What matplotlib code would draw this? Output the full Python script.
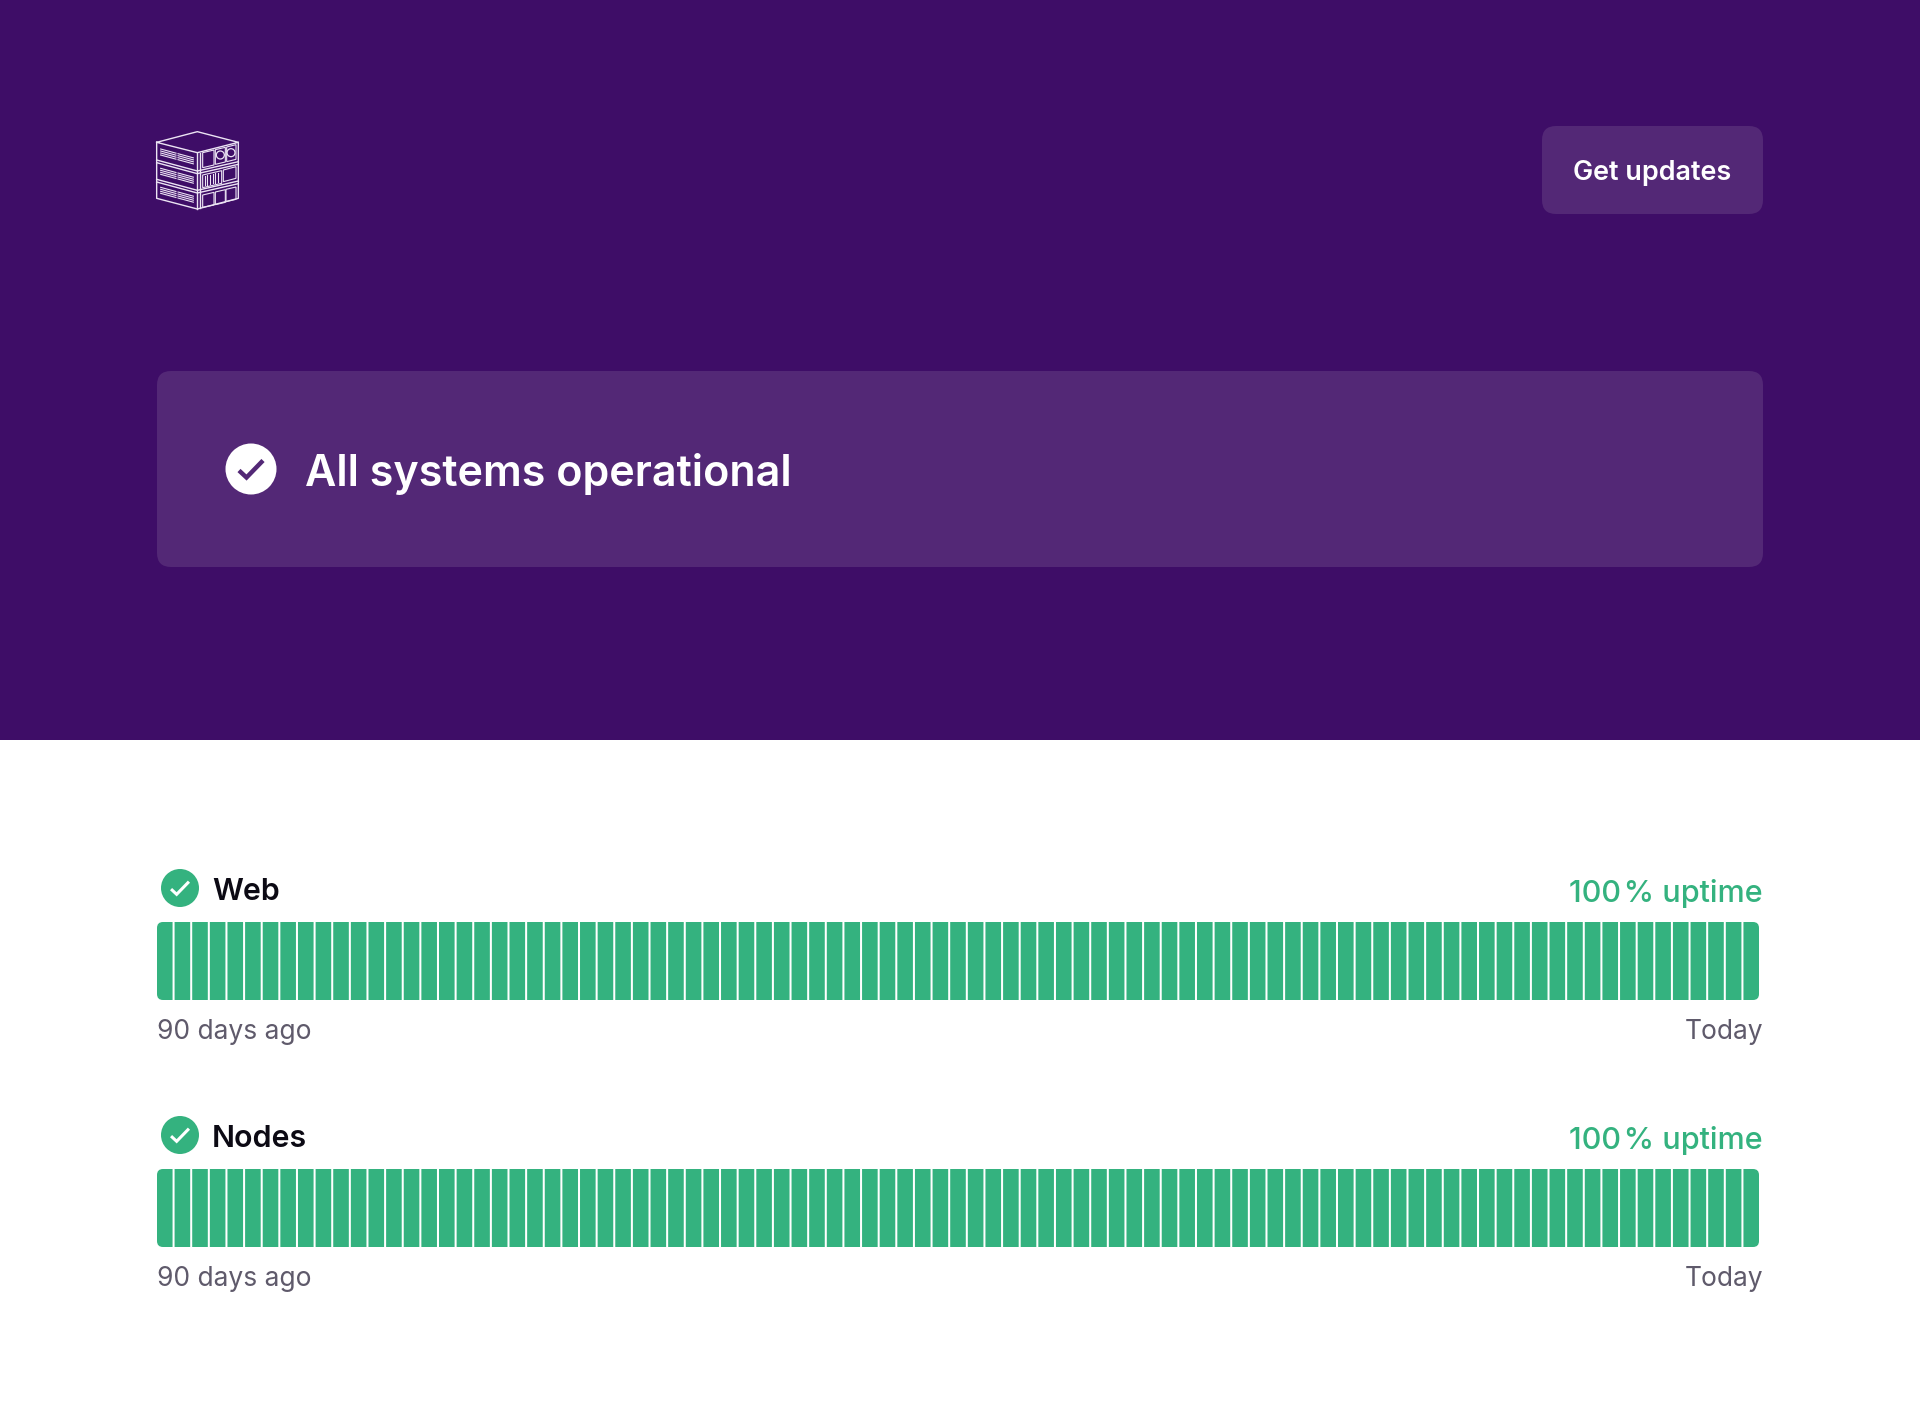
import matplotlib
matplotlib.use("Agg")
import matplotlib.pyplot as plt
from matplotlib.patches import Circle, FancyBboxPatch, Polygon, Rectangle

plt.rcParams["font.family"] = ["Inter", "DejaVu Sans"]

W, H = 1920, 1415
PURPLE = "#3e0d67"
PANEL = "#532876"
GREEN = "#34b27f"
GREY = "#5f5a6b"
INK = "#0c0a14"
LOGO = "#ece4f4"

# daily uptime, one row per 13 days, 91 days in total
web_uptime = [
    100, 100, 100, 100, 100, 100, 100, 100, 100, 100, 100, 100, 100,
    100, 100, 100, 100, 100, 100, 100, 100, 100, 100, 100, 100, 100,
    100, 100, 100, 100, 100, 100, 100, 100, 100, 100, 100, 100, 100,
    100, 100, 100, 100, 100, 100, 100, 100, 100, 100, 100, 100, 100,
    100, 100, 100, 100, 100, 100, 100, 100, 100, 100, 100, 100, 100,
    100, 100, 100, 100, 100, 100, 100, 100, 100, 100, 100, 100, 100,
    100, 100, 100, 100, 100, 100, 100, 100, 100, 100, 100, 100, 100,
]
nodes_uptime = list(web_uptime)
services = ["Web", "Nodes"]
service_values = [web_uptime, nodes_uptime]
uptime_labels = ["100\u200a% uptime", "100\u200a% uptime"]
start_label = "90 days ago"
end_label = "Today"
headline = "All systems operational"
button_label = "Get updates"


def rounded(ax, x0, y0, x1, y1, r, color):
    patch = FancyBboxPatch(
        (x0, y0), x1 - x0, y1 - y0,
        boxstyle=f"round,pad=0,rounding_size={r}",
        fc=color, ec="none", lw=0,
    )
    ax.add_patch(patch)
    return patch


def check_icon(ax, cx, cy, r, fill, tick, lw):
    ax.add_patch(Circle((cx, cy), r, fc=fill, ec="none"))
    s = r / 25.5
    ax.plot(
        [cx - 12 * s, cx - 4.5 * s, cx + 12 * s],
        [cy + 1.5 * s, cy + 8.5 * s, cy - 8.5 * s],
        color=tick, lw=lw, solid_joinstyle="miter", solid_capstyle="butt",
    )


def draw_logo(ax):
    # logo sketched in crop coordinates, 3x zoom of the area at (140, 110)
    def px(points):
        return [140 + p[0] / 3 for p in points], [110 + p[1] / 3 for p in points]

    outlines = [
        [(50, 97), (172, 65), (295, 97), (172, 128), (50, 97)],
        [(50, 97), (50, 265), (172, 297), (295, 265), (295, 97)],
        [(172, 128), (172, 297)],
        [(180, 128), (180, 295)],
        [(50, 150), (172, 183), (295, 155)],
        [(50, 158), (172, 191), (295, 163)],
        [(50, 208), (172, 241), (295, 213)],
        [(50, 216), (172, 249), (295, 221)],
    ]
    for line in outlines:
        xs, ys = px(line)
        ax.plot(xs, ys, color=LOGO, lw=1.0)

    # vents on the left face
    for top in (117, 175, 232):
        for x0 in (62, 114):
            y_start = top + (x0 - 62) * 0.27
            for k in range(4):
                xs, ys = px([(x0, y_start + k * 6), (x0 + 46, y_start + 12.5 + k * 6)])
                ax.plot(xs, ys, color=LOGO, lw=0.8)

    # hardware on the right face
    boxes = [
        [(188, 128), (222, 120), (222, 165), (188, 173)],
        [(226, 119), (256, 112), (256, 156), (226, 163)],
        [(260, 111), (288, 104), (288, 148), (260, 155)],
        [(188, 195), (245, 182), (245, 220), (188, 233)],
        [(250, 180), (288, 170), (288, 205), (250, 215)],
        [(188, 255), (222, 247), (222, 285), (188, 292)],
        [(226, 246), (256, 239), (256, 277), (226, 284)],
        [(258, 238), (288, 231), (288, 268), (258, 275)],
    ]
    for box in boxes:
        xs, ys = px(box)
        ax.add_patch(Polygon(list(zip(xs, ys)), fc="none", ec=LOGO, lw=0.8))
    for cx, cy in ((241, 135), (273, 128)):
        xs, ys = px([(cx, cy)])
        ax.add_patch(Circle((xs[0], ys[0]), 4, fc="none", ec=LOGO, lw=0.9))
    for k in range(6):
        xs, ys = px([(194 + k * 8, 198 - k * 2), (194 + k * 8, 226 - k * 2)])
        ax.plot(xs, ys, color=LOGO, lw=0.8)


def draw_service(fig, ax, name, values, uptime, top):
    x0, x1 = 157, 1759
    y0, y1 = top, top + 78

    check_icon(ax, 180, top - 34, 19, GREEN, "white", 2.2)
    ax.text(212, top - 22, name, fontsize=21.8, fontweight=600, color=INK, va="baseline")
    ax.text(1763, top - 20, uptime, fontsize=22, fontweight=500, color=GREEN,
            va="baseline", ha="right")
    ax.text(157, top + 117, start_label, fontsize=19, color=GREY, va="baseline")
    ax.text(1763, top + 117, end_label, fontsize=19, color=GREY, va="baseline", ha="right")

    strip = fig.add_axes([x0 / W, 1 - y1 / H, (x1 - x0) / W, (y1 - y0) / H])
    strip.set_xlim(-0.44, len(values) - 1 + 0.44)
    strip.set_ylim(0, 100)
    strip.axis("off")
    bars = strip.bar(range(len(values)), values, width=0.885, color=GREEN, linewidth=0)

    # the row of bars has rounded outer corners
    clip = FancyBboxPatch(
        (x0, y0), x1 - x0, y1 - y0,
        boxstyle="round,pad=0,rounding_size=6",
        fc="none", ec="none", transform=ax.transData,
    )
    for bar in bars:
        bar.set_snap(False)
        bar.set_clip_path(clip)


fig = plt.figure(figsize=(W / 100, H / 100), dpi=100, facecolor="white")
ax = fig.add_axes([0, 0, 1, 1])
ax.set_xlim(0, W)
ax.set_ylim(H, 0)
ax.axis("off")

ax.add_patch(Rectangle((0, 0), W, 740, fc=PURPLE, ec="none"))
draw_logo(ax)

rounded(ax, 1542, 126, 1763, 214, 14, PANEL)
ax.text(1652, 180, button_label, fontsize=19.4, fontweight=600, color="white",
        ha="center", va="baseline")

rounded(ax, 157, 371, 1763, 567, 14, PANEL)
check_icon(ax, 251, 469, 25.5, "white", PANEL, 3.2)
ax.text(305, 486, headline, fontsize=31, fontweight=600, color="white", va="baseline")

for name, values, uptime, top in zip(services, service_values, uptime_labels, (922, 1169)):
    draw_service(fig, ax, name, values, uptime, top)

fig.savefig("out.png", dpi=100, facecolor="white")
